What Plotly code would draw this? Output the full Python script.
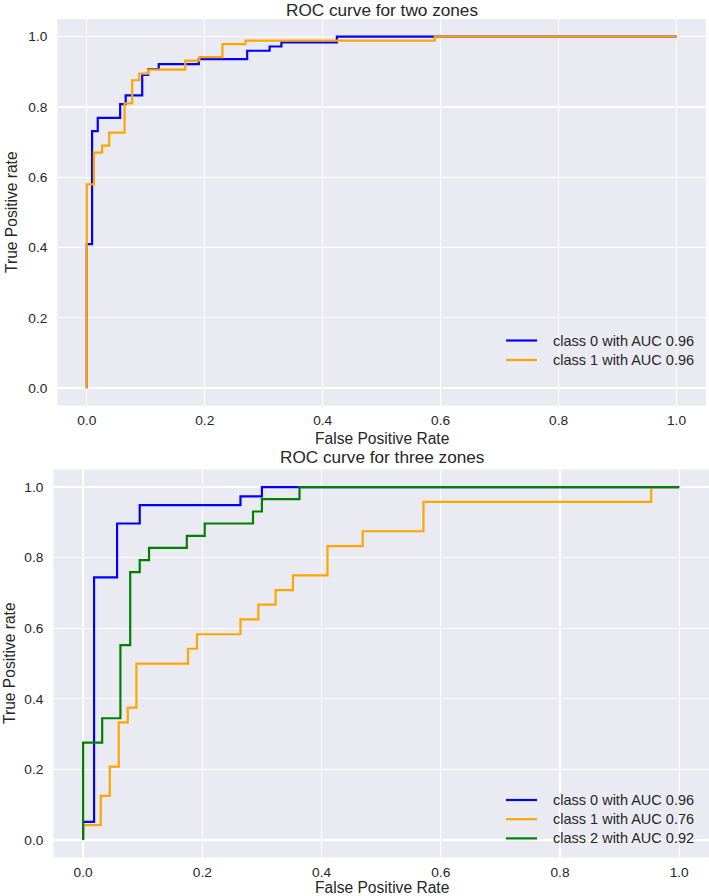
import plotly.graph_objects as go

W, H = 709, 896

# ---------------- data ----------------
# Top: ROC curve for two zones (step vertices: fpr at the jump, tpr after jump)
two_c0_fpr = [0.0, 0.0, 0.009, 0.0186, 0.0566, 0.066, 0.094, 0.104, 0.122, 0.19, 0.272, 0.31, 0.33, 0.424, 1.0]
two_c0_tpr = [0.0, 0.41, 0.731, 0.769, 0.808, 0.833, 0.891, 0.908, 0.922, 0.936, 0.96, 0.972, 0.984, 1.0, 1.0]
two_c1_fpr = [0.0, 0.0, 0.012, 0.026, 0.038, 0.064, 0.077, 0.089, 0.104, 0.167, 0.191, 0.23, 0.269, 0.59, 1.0]
two_c1_tpr = [0.0, 0.58, 0.67, 0.69, 0.727, 0.81, 0.876, 0.895, 0.906, 0.932, 0.942, 0.979, 0.989, 1.0, 1.0]
two_labels = ["class 0 with AUC 0.96", "class 1 with AUC 0.96"]

# Bottom: ROC curve for three zones
three_c0_fpr = [0.0, 0.0, 0.0184, 0.057, 0.095, 0.264, 0.3, 1.0]
three_c0_tpr = [0.0, 0.051, 0.744, 0.897, 0.949, 0.974, 1.0, 1.0]
three_c1_fpr = [0.0, 0.0, 0.0296, 0.0447, 0.0598, 0.0749, 0.0894, 0.176, 0.191, 0.264, 0.294,
                0.323, 0.352, 0.41, 0.469, 0.571, 0.953, 1.0]
three_c1_tpr = [0.0, 0.042, 0.125, 0.208, 0.333, 0.375, 0.5, 0.542, 0.583, 0.625, 0.667,
                0.708, 0.75, 0.833, 0.875, 0.958, 1.0, 1.0]
three_c2_fpr = [0.0, 0.0, 0.032, 0.0626, 0.079, 0.095, 0.1106, 0.174, 0.204, 0.285, 0.3, 0.363, 1.0]
three_c2_tpr = [0.0, 0.276, 0.345, 0.552, 0.759, 0.793, 0.828, 0.862, 0.897, 0.931, 0.966, 1.0, 1.0]
three_labels = ["class 0 with AUC 0.96", "class 1 with AUC 0.76", "class 2 with AUC 0.92"]

tick_vals = [0.0, 0.2, 0.4, 0.6, 0.8, 1.0]
tick_text = ["0.0", "0.2", "0.4", "0.6", "0.8", "1.0"]

titles = ["ROC curve for two zones", "ROC curve for three zones"]
x_title = "False Positive Rate"
y_title = "True Positive rate"

# ---------------- styling ----------------
FONT = "Liberation Sans, Arial, sans-serif"
TXT = "#262626"
BG = "#EAEAF2"
TICK_FS = 13.7
TITLE_FS = 17.2
LABEL_FS = 15.6
LEG_FS = 14.5
LW = 2.2
colors = ["blue", "orange", "green"]


def px(x):
    return x / W


def py(y):
    return 1 - y / H


fig = go.Figure()


def add(xs, ys, name, color, xa, ya):
    fig.add_trace(go.Scatter(x=xs, y=ys, mode="lines", name=name,
                             line=dict(color=color, width=LW, shape="hv"),
                             xaxis=xa, yaxis=ya, showlegend=False, hoverinfo="skip"))


add(two_c0_fpr, two_c0_tpr, two_labels[0], colors[0], "x", "y")
add(two_c1_fpr, two_c1_tpr, two_labels[1], colors[1], "x", "y")
add(three_c0_fpr, three_c0_tpr, three_labels[0], colors[0], "x2", "y2")
add(three_c1_fpr, three_c1_tpr, three_labels[1], colors[1], "x2", "y2")
add(three_c2_fpr, three_c2_tpr, three_labels[2], colors[2], "x2", "y2")

axis_common = dict(
    range=[-0.05, 1.05], tickvals=tick_vals, ticktext=tick_text,
    showgrid=True, gridcolor="white", gridwidth=1.3, zeroline=False,
    showline=False, ticks="", tickfont=dict(family=FONT, size=TICK_FS, color=TXT),
    fixedrange=True,
)

top_dom_y = [py(405.7), py(19.1)]
bot_dom_y = [py(857.6), py(469.5)]

fig.update_layout(
    width=W, height=H,
    margin=dict(l=0, r=0, t=0, b=0),
    paper_bgcolor="white",
    plot_bgcolor=BG,
    font=dict(family=FONT, size=TICK_FS, color=TXT),
    xaxis=dict(domain=[px(57.3), px(706)], anchor="y", ticklabelstandoff=5, **axis_common),
    yaxis=dict(domain=top_dom_y, anchor="x", ticklabelstandoff=9, **axis_common),
    xaxis2=dict(domain=[px(53.3), 1.0], anchor="y2", ticklabelstandoff=5, **axis_common),
    yaxis2=dict(domain=bot_dom_y, anchor="x2", ticklabelstandoff=9, **axis_common),
    showlegend=False,
)


def ann(text, x, y, size, angle=0, xanchor="center"):
    fig.add_annotation(text=text, x=px(x), y=py(y), xref="paper", yref="paper",
                       showarrow=False, textangle=angle, xanchor=xanchor, yanchor="middle",
                       font=dict(family=FONT, size=size, color=TXT))


ann(titles[0], 381.7, 10, TITLE_FS)
ann(x_title, 381.7, 438.5, LABEL_FS)
ann(y_title, 12, 212, LABEL_FS, angle=-90)
ann(titles[1], 381.7, 457, TITLE_FS)
ann(x_title, 381.7, 887.5, LABEL_FS)
ann(y_title, 9, 663, LABEL_FS, angle=-90)


# legends (drawn in paper space: sample line + real text)
def legend(labels, cols, rows_y):
    for lab, col, yy in zip(labels, cols, rows_y):
        fig.add_shape(type="line", xref="paper", yref="paper",
                      x0=px(506), x1=px(537), y0=py(yy), y1=py(yy),
                      line=dict(color=col, width=LW))
        fig.add_annotation(text=lab, x=px(550.5), y=py(yy), xref="paper", yref="paper",
                           showarrow=False, xanchor="left", yanchor="middle",
                           font=dict(family=FONT, size=LEG_FS, color=TXT))


legend(two_labels, colors[:2], [340.5, 360])
legend(three_labels, colors, [800, 819.2, 838.4])

fig.write_html("out.html", config={"displayModeBar": False, "staticPlot": True},
               post_script="document.body.style.margin='0';document.body.style.overflow='hidden';")
